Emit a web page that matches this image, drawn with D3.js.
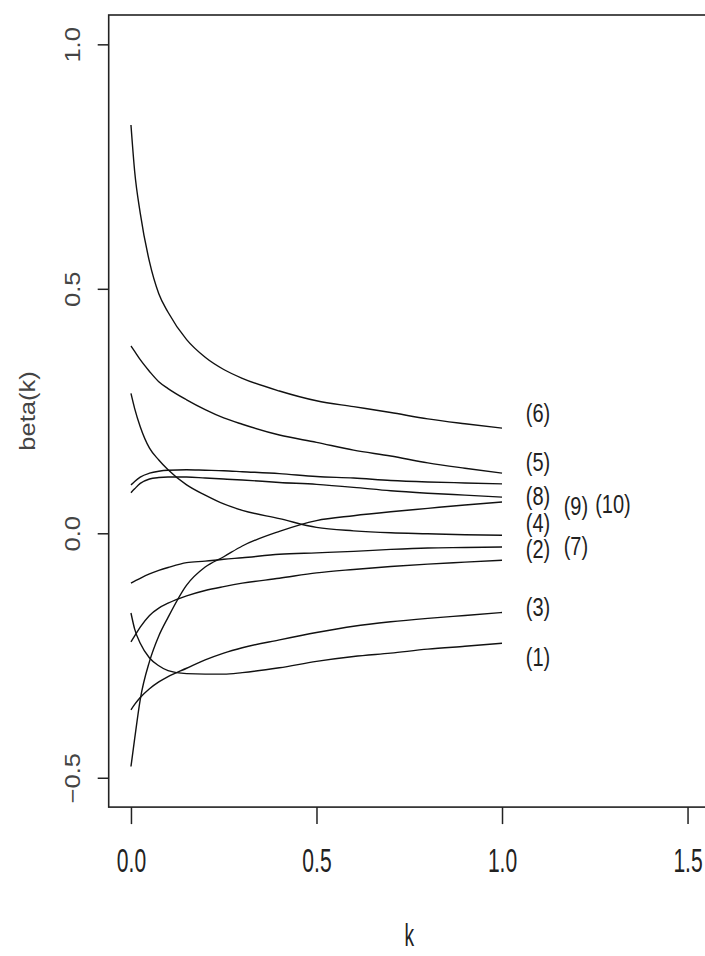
<!DOCTYPE html>
<html>
<head>
<meta charset="utf-8">
<script src="https://cdn.jsdelivr.net/npm/d3@7"></script>
<style>
  html, body { margin: 0; padding: 0; background: #fff; }
  svg { display: block; font-family: "Liberation Sans", Arial, sans-serif; }
</style>
</head>
<body>
<svg></svg>
<script>
// ridge parameter values
const kValues = [0, 0.01, 0.025, 0.05, 0.075, 0.1, 0.15, 0.2, 0.25, 0.3, 0.4, 0.5, 0.6, 0.7, 0.8, 0.9, 1.0];

// coefficient paths beta(k)
const beta6  = [0.835, 0.74, 0.655, 0.555, 0.49, 0.452, 0.396, 0.36, 0.335, 0.317, 0.291, 0.271, 0.259, 0.247, 0.234, 0.224, 0.215];
const beta5  = [0.383, 0.372, 0.355, 0.331, 0.31, 0.296, 0.273, 0.253, 0.236, 0.223, 0.201, 0.186, 0.17, 0.158, 0.144, 0.133, 0.123];
const beta8  = [0.099, 0.106, 0.115, 0.123, 0.127, 0.129, 0.13, 0.129, 0.128, 0.126, 0.122, 0.116, 0.113, 0.108, 0.105, 0.103, 0.101];
const beta9  = [0.083, 0.091, 0.102, 0.111, 0.114, 0.115, 0.115, 0.113, 0.111, 0.109, 0.104, 0.1, 0.094, 0.087, 0.082, 0.078, 0.074];
const beta10 = [-0.477, -0.42, -0.34, -0.262, -0.21, -0.172, -0.106, -0.069, -0.048, -0.026, 0.004, 0.026, 0.036, 0.044, 0.051, 0.058, 0.064];
const beta4  = [0.286, 0.255, 0.218, 0.174, 0.15, 0.13, 0.099, 0.078, 0.06, 0.047, 0.03, 0.012, 0.005, 0.001, -0.001, -0.003, -0.004];
const beta2  = [-0.102, -0.098, -0.092, -0.083, -0.076, -0.07, -0.06, -0.057, -0.053, -0.05, -0.043, -0.04, -0.037, -0.033, -0.03, -0.029, -0.028];
const beta7  = [-0.222, -0.21, -0.192, -0.168, -0.153, -0.143, -0.128, -0.117, -0.109, -0.102, -0.092, -0.081, -0.074, -0.068, -0.063, -0.059, -0.055];
const beta1  = [-0.163, -0.196, -0.225, -0.255, -0.271, -0.281, -0.287, -0.288, -0.288, -0.285, -0.275, -0.262, -0.252, -0.245, -0.237, -0.231, -0.225];
const beta3  = [-0.361, -0.35, -0.336, -0.318, -0.304, -0.293, -0.276, -0.259, -0.245, -0.234, -0.218, -0.203, -0.19, -0.181, -0.174, -0.168, -0.162];

// the little "(i)" tags to the right of the paths
const labelText = ["(6)", "(5)", "(8)", "(9)", "(10)", "(4)", "(2)", "(7)", "(3)", "(1)"];
const labelK    = [1.097, 1.097, 1.097, 1.199, 1.299, 1.097, 1.097, 1.199, 1.097, 1.097];
const labelBeta = [0.246, 0.146, 0.076, 0.055, 0.06, 0.022, -0.032, -0.026, -0.15, -0.253];

const xTicks = [0, 0.5, 1.0, 1.5];
const yTicks = [-0.5, 0, 0.5, 1.0];

document.addEventListener("DOMContentLoaded", function() {
    const W = 705, H = 956;
    const svg = d3.select("svg").attr("width", W).attr("height", H);

    // R style: range padded by 4% on each side
    const x = d3.scaleLinear().domain([-0.06, 1.56]).range([108.7, 709.8]);
    const y = d3.scaleLinear().domain([-0.56, 1.06]).range([807.1, 15]);

    const series = [beta6, beta5, beta8, beta9, beta10, beta4, beta2, beta7, beta1, beta3];

    const line = d3.line()
        .x((d, i) => x(kValues[i]))
        .y(d => y(d))
        .curve(d3.curveMonotoneX);

    svg.append("g")
        .selectAll("path")
        .data(series)
        .join("path")
        .attr("d", d => line(d))
        .attr("fill", "none")
        .attr("stroke", "#111")
        .attr("stroke-width", 1.4);

    // plot box
    svg.append("rect")
        .attr("x", x(-0.06))
        .attr("y", y(1.06))
        .attr("width", x(1.56) - x(-0.06))
        .attr("height", y(-0.56) - y(1.06))
        .attr("fill", "none")
        .attr("stroke", "#222")
        .attr("stroke-width", 1.6);

    // x axis
    const gx = svg.append("g")
        .attr("transform", `translate(0,${y(-0.56)})`)
        .call(d3.axisBottom(x).tickValues(xTicks).tickSize(17).tickSizeOuter(0).tickFormat(d3.format(".1f")));
    gx.select(".domain").remove();
    gx.selectAll(".tick line").attr("stroke", "#222").attr("stroke-width", 1.5);
    gx.selectAll(".tick text")
        .attr("y", 0).attr("dy", 0)
        .attr("transform", "translate(0,65) scale(0.62,1)")
        .attr("font-size", 34)
        .attr("font-family", "Liberation Sans, Arial, sans-serif")
        .attr("fill", "#222");

    // y axis
    const gy = svg.append("g")
        .attr("transform", `translate(${x(-0.06)},0)`)
        .call(d3.axisLeft(y).tickValues(yTicks).tickSize(11).tickSizeOuter(0).tickFormat(d3.format(".1f")));
    gy.select(".domain").remove();
    gy.selectAll(".tick line").attr("stroke", "#222").attr("stroke-width", 1.5);
    gy.selectAll(".tick text")
        .attr("x", 0).attr("y", 0).attr("dy", 0)
        .attr("text-anchor", "middle")
        .attr("transform", "translate(-29,0) rotate(-90) scale(1.02,0.85)")
        .attr("font-size", 25)
        .attr("font-family", "Liberation Sans, Arial, sans-serif")
        .attr("fill", "#444");

    // axis titles
    svg.append("text")
        .attr("transform", `translate(${(x(-0.06) + x(1.56)) / 2},946) scale(0.62,1)`)
        .attr("text-anchor", "middle")
        .attr("font-size", 31)
        .attr("fill", "#222")
        .text("k");

    svg.append("text")
        .attr("transform", `translate(35,${(y(1.06) + y(-0.56)) / 2}) rotate(-90) scale(1.02,0.85)`)
        .attr("text-anchor", "middle")
        .attr("font-size", 25)
        .attr("fill", "#444")
        .text("beta(k)");

    // path tags
    svg.append("g")
        .selectAll("text")
        .data(labelText)
        .join("text")
        .attr("transform", (d, i) => `translate(${x(labelK[i])},${y(labelBeta[i])}) scale(0.8,1)`)
        .attr("dy", "0.36em")
        .attr("text-anchor", "middle")
        .attr("font-size", 25)
        .attr("fill", "#222")
        .text(d => d);
});
</script>
</body>
</html>
